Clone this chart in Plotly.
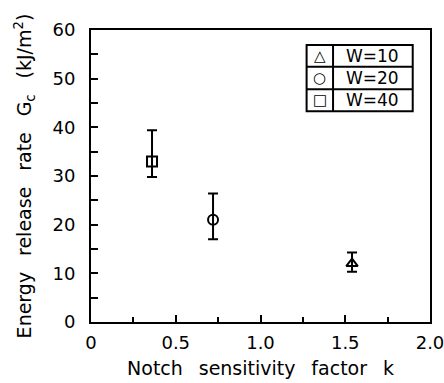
import plotly.graph_objects as go

# ---- data ----
series_names = ["W=10", "W=20", "W=40"]
series_symbols = ["triangle-up-open", "circle-open", "square-open"]
legend_glyphs = ["△", "○", "□"]
k_values = [1.54, 0.72, 0.36]
gc_values = [12.0, 21.0, 33.0]
err_plus = [2.3, 5.4, 6.4]
err_minus = [1.7, 4.0, 3.2]

x_tickvals = [0, 0.5, 1.0, 1.5, 2.0]
x_ticktext = ["0", "0.5", "1.0", "1.5", "2.0"]
y_tickvals = [0, 10, 20, 30, 40, 50, 60]

FONT = "DejaVu Sans"
GAP = "  \u2009"

fig = go.Figure()
for name, sym, k, g, ep, em in zip(series_names, series_symbols, k_values,
                                   gc_values, err_plus, err_minus):
    fig.add_trace(go.Scatter(
        x=[k], y=[g], mode="markers", name=name,
        marker=dict(symbol=sym, size=10, color="black",
                    line=dict(color="black", width=2)),
        error_y=dict(type="data", symmetric=False, array=[ep], arrayminus=[em],
                     color="black", thickness=2, width=5),
        showlegend=False,
    ))

# ---- table-like legend ----
bx0, bx1, bdiv = 0.636, 0.949, 0.714
rows = [0.949, 0.874, 0.797, 0.722]
line = dict(color="black", width=2)
fig.add_shape(type="rect", xref="paper", yref="paper", x0=bx0, x1=bx1,
              y0=rows[-1], y1=rows[0], line=line)
fig.add_shape(type="line", xref="paper", yref="paper", x0=bdiv, x1=bdiv,
              y0=rows[-1], y1=rows[0], line=line)
for r in rows[1:-1]:
    fig.add_shape(type="line", xref="paper", yref="paper", x0=bx0, x1=bx1,
                  y0=r, y1=r, line=line)
for i, (glyph, name) in enumerate(zip(legend_glyphs, series_names)):
    yc = (rows[i] + rows[i + 1]) / 2
    fig.add_annotation(xref="paper", yref="paper", x=(bx0 + bdiv) / 2, y=yc,
                       text="<b>" + glyph + "</b>", showarrow=False,
                       font=dict(family=FONT, size=15, color="black"),
                       xanchor="center", yanchor="middle")
    fig.add_annotation(xref="paper", yref="paper", x=(bdiv + bx1) / 2, y=yc,
                       text=name, showarrow=False,
                       font=dict(family=FONT, size=17, color="black"),
                       xanchor="center", yanchor="middle")

fig.update_layout(
    width=444, height=383,
    margin=dict(l=91, r=14, t=30, b=61),
    paper_bgcolor="white", plot_bgcolor="white",
    font=dict(family=FONT, size=18, color="black"),
    xaxis=dict(
        range=[0, 2.0], tickvals=x_tickvals, ticktext=x_ticktext,
        ticks="inside", ticklen=7, tickwidth=2, tickcolor="black",
        minor=dict(dtick=0.25, ticks="inside", ticklen=5, tickwidth=2,
                   tickcolor="black"),
        showline=True, linecolor="black", linewidth=2, mirror=True,
        showgrid=False, zeroline=False, ticklabelstandoff=3,
        ticklabeloverflow="allow",
        automargin=False, tickfont=dict(family=FONT, size=18),
        title=dict(text=GAP.join(["Notch", "sensitivity", "factor", "k"]),
                   font=dict(family=FONT, size=19), standoff=10),
    ),
    yaxis=dict(
        range=[0, 60], tickvals=y_tickvals,
        ticks="inside", ticklen=7, tickwidth=2, tickcolor="black",
        minor=dict(dtick=5, ticks="inside", ticklen=7, tickwidth=2,
                   tickcolor="black"),
        showline=True, linecolor="black", linewidth=2, mirror=True,
        showgrid=False, zeroline=False, ticklabelstandoff=10,
        ticklabeloverflow="allow",
        automargin=False, tickfont=dict(family=FONT, size=18),
        title=dict(text=GAP.join(["Energy", "release", "rate",
                                  "G<sub>c</sub>", "(kJ/m<sup>2</sup>)"]),
                   font=dict(family=FONT, size=19), standoff=16),
    ),
)

fig.write_html("out.html")
